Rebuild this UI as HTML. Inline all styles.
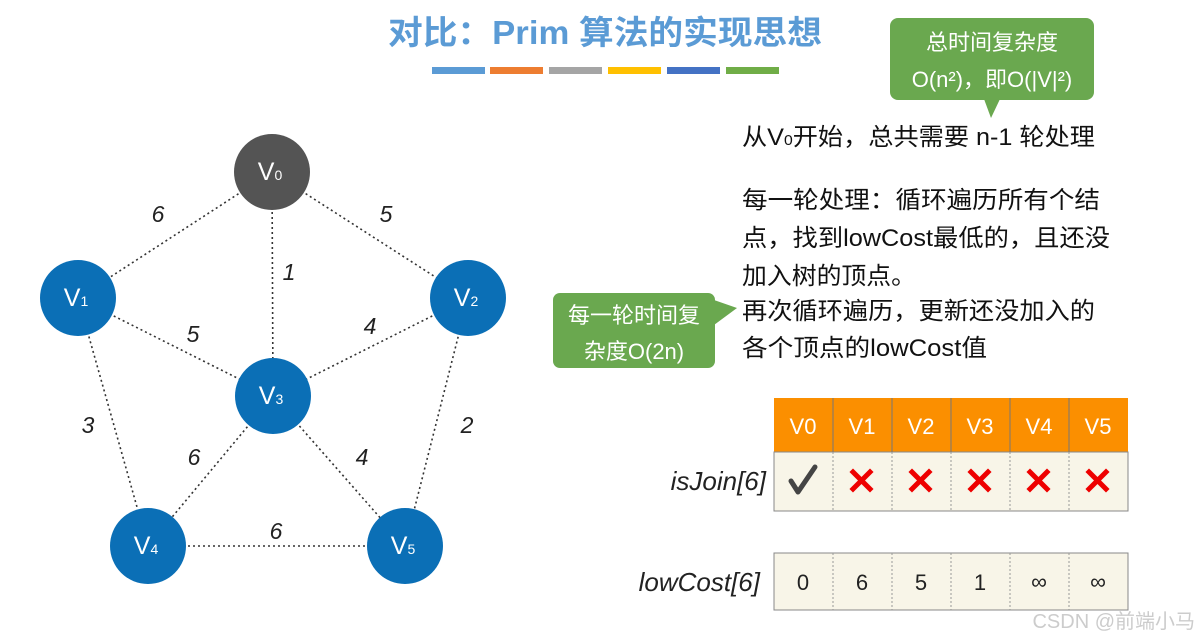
<!DOCTYPE html>
<html><head><meta charset="utf-8"><style>
html,body{margin:0;padding:0;background:#fff}
svg text{font-family:"Liberation Sans","Noto Sans CJK SC",sans-serif}
</style></head><body>
<svg width="1201" height="638" viewBox="0 0 1201 638" xmlns="http://www.w3.org/2000/svg">
<text x="605" y="44" text-anchor="middle" font-size="33" font-weight="bold" fill="#5b9bd5" textLength="434" lengthAdjust="spacingAndGlyphs">对比：Prim 算法的实现思想</text>
<g>
<rect x="432" y="67" width="53" height="7" fill="#5b9bd5"/>
<rect x="490" y="67" width="53" height="7" fill="#ed7d31"/>
<rect x="549" y="67" width="53" height="7" fill="#a5a5a5"/>
<rect x="608" y="67" width="53" height="7" fill="#ffc000"/>
<rect x="667" y="67" width="53" height="7" fill="#4472c4"/>
<rect x="726" y="67" width="53" height="7" fill="#70ad47"/>
</g>
<g stroke="#333" stroke-width="1.6" stroke-dasharray="2,3" fill="none">
<line x1="272" y1="172" x2="78" y2="298"/>
<line x1="272" y1="172" x2="468" y2="298"/>
<line x1="272" y1="172" x2="273" y2="396"/>
<line x1="78" y1="298" x2="273" y2="396"/>
<line x1="468" y1="298" x2="273" y2="396"/>
<line x1="78" y1="298" x2="148" y2="546"/>
<line x1="468" y1="298" x2="405" y2="546"/>
<line x1="273" y1="396" x2="148" y2="546"/>
<line x1="273" y1="396" x2="405" y2="546"/>
<line x1="148" y1="546" x2="405" y2="546"/>
</g>
<g font-size="23" font-style="italic" fill="#222" text-anchor="middle">
<text x="158" y="222">6</text><text x="386" y="222">5</text><text x="289" y="280">1</text>
<text x="193" y="342">5</text><text x="370" y="334">4</text><text x="88" y="433">3</text>
<text x="467" y="433">2</text><text x="194" y="465">6</text><text x="362" y="465">4</text>
<text x="276" y="539">6</text>
</g>
<g font-size="25" fill="#fff" text-anchor="middle">
<circle cx="272" cy="172" r="38" fill="#545454"/><text x="270" y="180">V<tspan font-size="14">0</tspan></text>
<circle cx="78" cy="298" r="38" fill="#0b6fb6"/><text x="76" y="306">V<tspan font-size="14">1</tspan></text>
<circle cx="468" cy="298" r="38" fill="#0b6fb6"/><text x="466" y="306">V<tspan font-size="14">2</tspan></text>
<circle cx="273" cy="396" r="38" fill="#0b6fb6"/><text x="271" y="404">V<tspan font-size="14">3</tspan></text>
<circle cx="148" cy="546" r="38" fill="#0b6fb6"/><text x="146" y="554">V<tspan font-size="14">4</tspan></text>
<circle cx="405" cy="546" r="38" fill="#0b6fb6"/><text x="403" y="554">V<tspan font-size="14">5</tspan></text>
</g>
<rect x="890" y="18" width="204" height="82" rx="8" fill="#6aa84f"/>
<polygon points="984,99 1000,99 991,118" fill="#6aa84f"/>
<text x="992" y="50" text-anchor="middle" font-size="22" fill="#fff">总时间复杂度</text>
<text x="992" y="87" text-anchor="middle" font-size="22" fill="#fff">O(n²)，即O(|V|²)</text>
<rect x="553" y="293" width="162" height="75" rx="7" fill="#6aa84f"/>
<polygon points="714,300 714,325 737,308" fill="#6aa84f"/>
<text x="634" y="323" text-anchor="middle" font-size="22" fill="#fff">每一轮时间复</text>
<text x="634" y="359" text-anchor="middle" font-size="22" fill="#fff">杂度O(2n)</text>
<g font-size="24" fill="#111">
<text x="742" y="145" textLength="353" lengthAdjust="spacingAndGlyphs">从V<tspan font-size="15">0</tspan>开始，总共需要 n-1 轮处理</text>
<text x="742" y="208" textLength="358" lengthAdjust="spacingAndGlyphs">每一轮处理：循环遍历所有个结</text>
<text x="742" y="246" textLength="368" lengthAdjust="spacingAndGlyphs">点，找到lowCost最低的，且还没</text>
<text x="742" y="284" textLength="174" lengthAdjust="spacingAndGlyphs">加入树的顶点。</text>
<text x="742" y="319" textLength="353" lengthAdjust="spacingAndGlyphs">再次循环遍历，更新还没加入的</text>
<text x="742" y="356" textLength="245" lengthAdjust="spacingAndGlyphs">各个顶点的lowCost值</text>
</g>
<rect x="774" y="398" width="354" height="54" fill="#fb8f00"/>
<rect x="774" y="452" width="354" height="59" fill="#f8f5e8" stroke="#888" stroke-width="1"/>
<rect x="774" y="553" width="354" height="57" fill="#f8f5e8" stroke="#888" stroke-width="1"/>
<g stroke="#777" stroke-width="1">
<line x1="833" y1="398" x2="833" y2="452"/><line x1="892" y1="398" x2="892" y2="452"/><line x1="951" y1="398" x2="951" y2="452"/><line x1="1010" y1="398" x2="1010" y2="452"/><line x1="1069" y1="398" x2="1069" y2="452"/>
</g>
<g stroke="#999" stroke-width="1" stroke-dasharray="2,2">
<line x1="833" y1="452" x2="833" y2="511"/><line x1="892" y1="452" x2="892" y2="511"/><line x1="951" y1="452" x2="951" y2="511"/><line x1="1010" y1="452" x2="1010" y2="511"/><line x1="1069" y1="452" x2="1069" y2="511"/>
<line x1="833" y1="553" x2="833" y2="610"/><line x1="892" y1="553" x2="892" y2="610"/><line x1="951" y1="553" x2="951" y2="610"/><line x1="1010" y1="553" x2="1010" y2="610"/><line x1="1069" y1="553" x2="1069" y2="610"/>
</g>
<g font-size="22" fill="#fff" text-anchor="middle">
<text x="803" y="434">V0</text><text x="862" y="434">V1</text><text x="921" y="434">V2</text><text x="980" y="434">V3</text><text x="1039" y="434">V4</text><text x="1098" y="434">V5</text>
</g>
<path d="M791 481 L798 492 L815 467" stroke="#444" stroke-width="5" fill="none" stroke-linecap="round" stroke-linejoin="round"/>
<g stroke="#e00" stroke-width="5" stroke-linecap="square">
<path d="M853 472 L870 489 M870 472 L853 489"/>
<path d="M912 472 L929 489 M929 472 L912 489"/>
<path d="M971 472 L988 489 M988 472 L971 489"/>
<path d="M1030 472 L1047 489 M1047 472 L1030 489"/>
<path d="M1089 472 L1106 489 M1106 472 L1089 489"/>
</g>
<g font-size="22" fill="#222" text-anchor="middle">
<text x="803" y="590">0</text><text x="862" y="590">6</text><text x="921" y="590">5</text><text x="980" y="590">1</text><text x="1039" y="589">∞</text><text x="1098" y="589">∞</text>
</g>
<text x="766" y="490" text-anchor="end" font-size="26" font-style="italic" fill="#222">isJoin[6]</text>
<text x="760" y="591" text-anchor="end" font-size="26" font-style="italic" fill="#222">lowCost[6]</text>
<text x="1195" y="628" text-anchor="end" font-size="20" fill="#ccc">CSDN @前端小马</text>
</svg>
</body></html>
